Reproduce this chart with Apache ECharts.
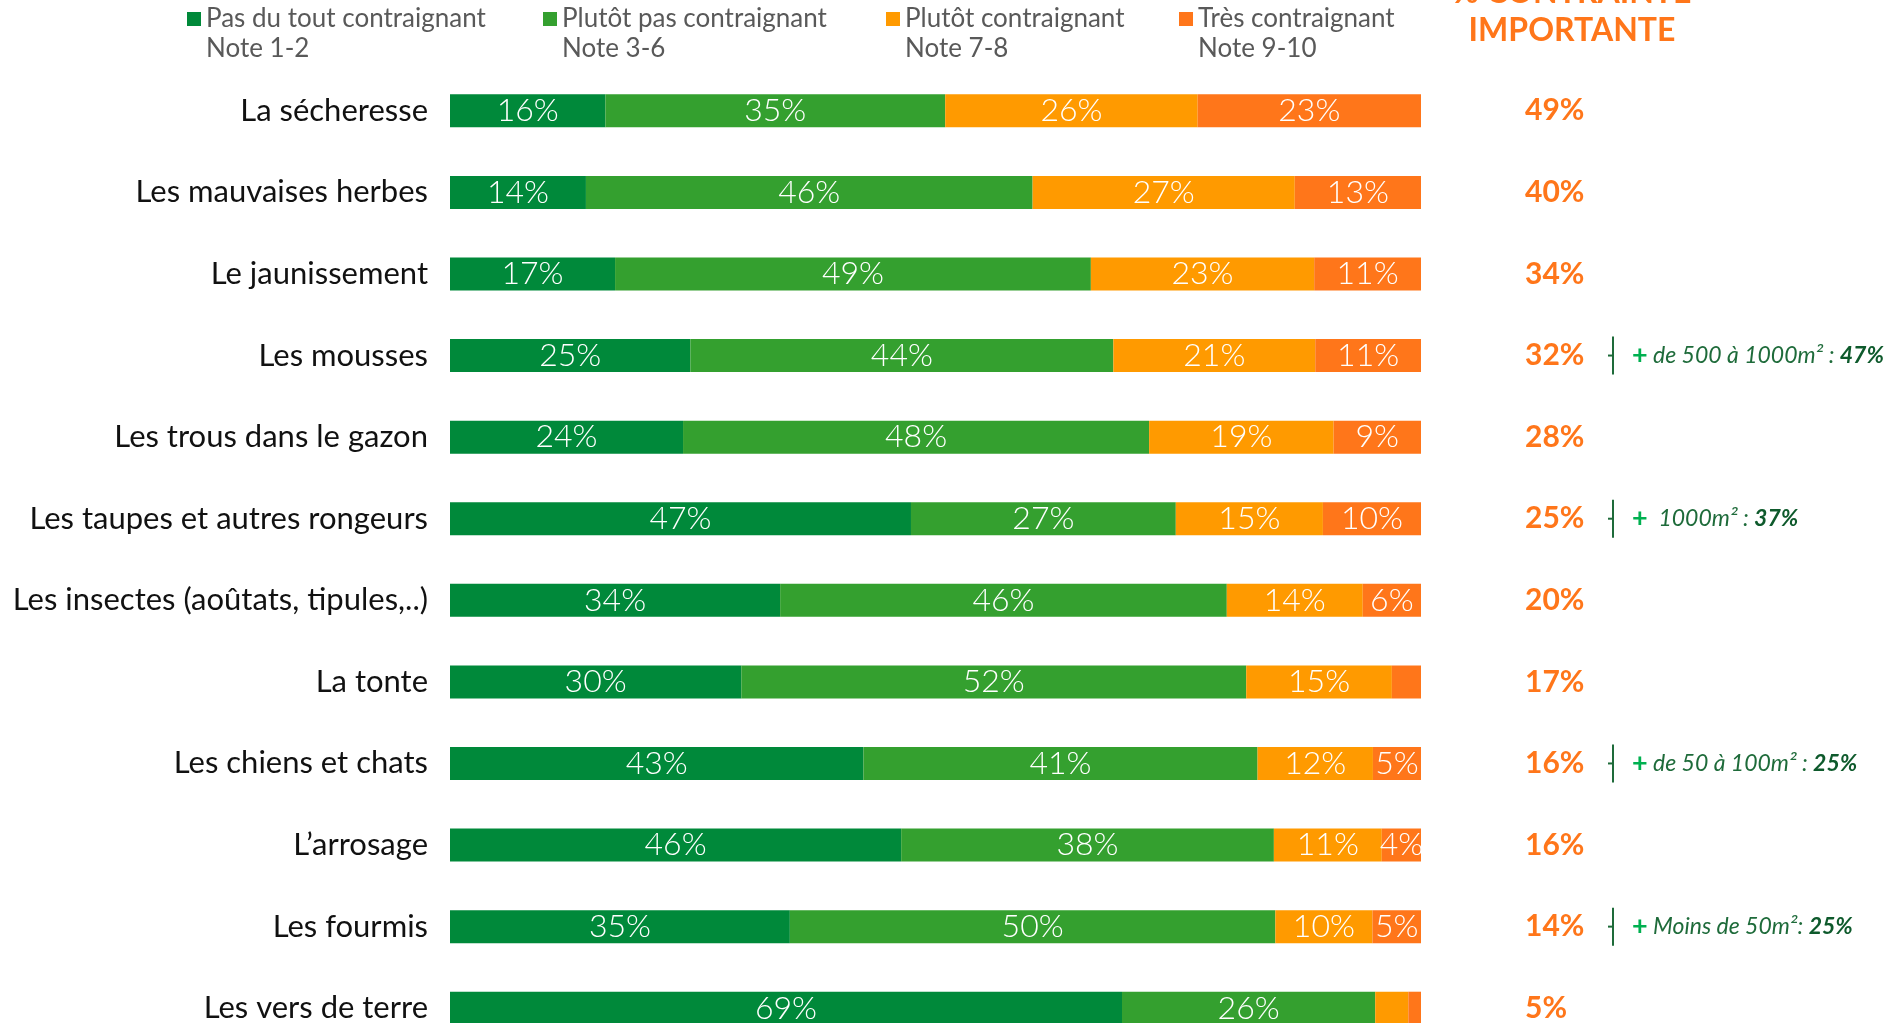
<!DOCTYPE html>
<html><head><meta charset="utf-8">
<script src="https://cdn.jsdelivr.net/npm/echarts@6/dist/echarts.min.js"></script>
<style>html,body{margin:0;padding:0;background:#fff;overflow:hidden;height:1023px}#c{width:1890px;height:1049px}</style>
</head><body><div id="c"></div>
<script>
const categories = ['La sécheresse','Les mauvaises herbes','Le jaunissement','Les mousses','Les trous dans le gazon','Les taupes et autres rongeurs','Les insectes (aoûtats, tipules,..)','La tonte','Les chiens et chats','L’arrosage','Les fourmis','Les vers de terre'];
const seriesNames = ['Pas du tout contraignant','Plutôt pas contraignant','Plutôt contraignant','Très contraignant'];
const seriesNotes = ['Note 1-2','Note 3-6','Note 7-8','Note 9-10'];
const pasDuTout  = [16,14,17,25,24,47,34,30,43,46,35,69];
const plutotPas  = [35,46,49,44,48,27,46,52,41,38,50,26];
const plutot     = [26,27,23,21,19,15,14,15,12,11,10,3.4];
const tres       = [23,13,11,11, 9,10, 6, 3, 5, 4, 5,1.3];
const importante = [49,40,34,32,28,25,20,17,16,16,14,5];
const annotText  = [null,null,null,' de 500 à 1000m² : ',null,'  1000m² : ',null,null,' de 50 à 100m² : ',null,' Moins de 50m²: ',null];
const annotValue = [null,null,null,'47%',null,'37%',null,null,'25%',null,'25%',null];
const headerText = '% CONTRAINTE\nIMPORTANTE';

const colors = ['#00893A','#34A02F','#FF9A00','#FF761A'];
const FONT = 'Lato';
const values = [pasDuTout, plutotPas, plutot, tres];
const totals = categories.map((c,i)=>values.reduce((s,a)=>s+a[i],0));

const chart = echarts.init(document.getElementById('c'));
const legendLeft = [187, 543, 886, 1179];

const option = {
  backgroundColor:'#fff',
  animation:false,
  grid:{left:450, right:469, top:70, bottom:0, containLabel:false},
  xAxis:{type:'value', min:0, max:100, show:false},
  yAxis:[
    {type:'category', data:categories, inverse:true, axisLine:{show:false}, axisTick:{show:false}, splitLine:{show:false},
     axisLabel:{interval:0, margin:22, fontSize:31, color:'#111', fontFamily:FONT}},
    {type:'category', data:categories, inverse:true, position:'right', axisLine:{show:false}, axisTick:{show:false}, splitLine:{show:false},
     axisLabel:{interval:0, margin:104, align:'left',
       formatter:(v,i)=>{
         let s = '{v|'+importante[i]+'%}';
         if (annotText[i]) s += '{tk|}{br|}{sp|}{p|+}{t|'+annotText[i]+'}{b|'+annotValue[i]+'}';
         return s;
       },
       rich:{
         v:{fontSize:30, fontWeight:'bold', color:'#FF761A', fontFamily:FONT, width:83},
         tk:{width:4, height:2, backgroundColor:'#1E6B3A'},
         br:{width:2, height:38, backgroundColor:'#1E6B3A'},
         sp:{width:18},
         p:{fontSize:27, fontWeight:'bold', color:'#00B050', fontFamily:FONT},
         t:{fontSize:23, fontStyle:'italic', color:'#1E6B3A', fontFamily:FONT},
         b:{fontSize:23, fontStyle:'italic', fontWeight:'bold', color:'#0E5A2C', fontFamily:FONT}
       }}}
  ],
  legend: seriesNames.map((n,k)=>({
    data:[n], left:legendLeft[k], top:-26, padding:0, icon:'rect', itemWidth:14, itemHeight:14, selectedMode:false,
    formatter:name=>'\n'+name+'\n'+seriesNotes[seriesNames.indexOf(name)],
    textStyle:{fontSize:26, color:'#595959', lineHeight:30, fontFamily:FONT}
  })),
  graphic:[{type:'text', x:1572, y:-26, style:{text:headerText, align:'center', verticalAlign:'top', fill:'#FF761A', fontSize:32, fontWeight:'bold', fontFamily:FONT, lineHeight:38}}],
  series: seriesNames.map((n,k)=>({
    name:n, type:'bar', stack:'total', barWidth:33, yAxisIndex:0,
    itemStyle:{color:colors[k]},
    label:{show:true, position:'inside', color:'#fff', fontSize:32, fontWeight:300, fontFamily:FONT,
      formatter:p=>p.data.raw+'%'},
    data: values[k].map((v,i)=>({value:v/totals[i]*100, raw:v, label:{show:v>=4}}))
  }))
};
chart.setOption(option);
</script></body></html>
